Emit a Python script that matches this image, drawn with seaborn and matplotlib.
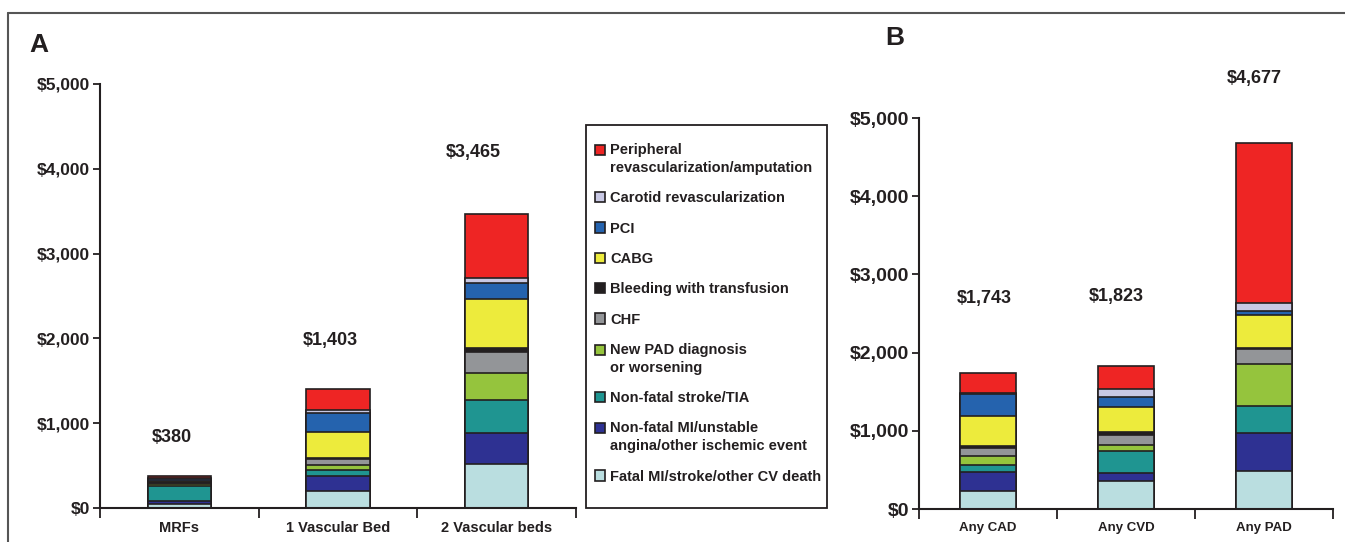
import matplotlib
matplotlib.use("Agg")
import matplotlib.pyplot as plt
from matplotlib.lines import Line2D
from matplotlib.patches import Patch, Rectangle
import pandas as pd
import seaborn as sns

# cost components, bottom of the stack first
components = [
    "Fatal MI/stroke/other CV death",
    "Non-fatal MI/unstable\nangina/other ischemic event",
    "Non-fatal stroke/TIA",
    "New PAD diagnosis\nor worsening",
    "CHF",
    "Bleeding with transfusion",
    "CABG",
    "PCI",
    "Carotid revascularization",
    "Peripheral\nrevascularization/amputation",
]
colors = ["#BADEE0", "#2E3192", "#1F9591", "#95C43D", "#939598",
          "#231F20", "#EDEB3C", "#2563AE", "#C8C8E4", "#EE2524"]

groups_a = ["MRFs", "1 Vascular Bed", "2 Vascular beds"]
mrfs = [50, 35, 175, 20, 20, 5, 15, 20, 10, 30]
one_bed = [203, 176, 75, 54, 70, 10, 310, 223, 31, 251]
two_beds = [518, 368, 392, 318, 242, 52, 576, 184, 67, 748]
totals_a = ["$380", "$1,403", "$3,465"]

groups_b = ["Any CAD", "Any CVD", "Any PAD"]
any_cad = [233, 242, 85, 118, 102, 20, 390, 280, 8, 265]
any_cvd = [352, 106, 284, 72, 131, 38, 323, 131, 93, 293]
any_pad = [487, 483, 352, 530, 191, 10, 429, 51, 98, 2046]
totals_b = ["$1,743", "$1,823", "$4,677"]

yticks = [0, 1000, 2000, 3000, 4000, 5000]
ytick_labels = ["$0", "$1,000", "$2,000", "$3,000", "$4,000", "$5,000"]

EDGE = "#231F20"

sns.set_style("white")
plt.rcParams["font.family"] = ["Liberation Sans", "DejaVu Sans"]
plt.rcParams["font.weight"] = "bold"


def stacked(ax, groups, layers, ytick_size, xtick_size):
    df = pd.DataFrame(layers, index=groups, columns=components)
    cum = df.cumsum(axis=1)
    # draw cumulative bars from the top layer down so each layer shows
    for comp, color in reversed(list(zip(components, colors))):
        sns.barplot(x=groups, y=cum[comp].values, color=color, saturation=1,
                    width=0.4, edgecolor=EDGE, linewidth=1.2, ax=ax)
    ax.set_xlim(-0.5, 2.5)
    ax.set_ylim(0, 5000)
    ax.set_yticks(yticks)
    ax.set_yticklabels(ytick_labels, fontsize=ytick_size, fontweight="bold", color="#231F20")
    ax.set_xticks([-0.5, 0.5, 1.5, 2.5], minor=True)
    ax.tick_params(axis="x", which="major", length=0, pad=9, labelsize=xtick_size)
    ax.tick_params(axis="x", which="minor", bottom=True, length=7, width=1.3, direction="out", color=EDGE)
    ax.tick_params(axis="y", left=True, length=5, width=1.3, direction="out", color=EDGE, pad=2)
    for lab in ax.get_xticklabels():
        lab.set_fontweight("bold")
        lab.set_color("#231F20")
    sns.despine(ax=ax)
    for side in ["left", "bottom"]:
        ax.spines[side].set_color(EDGE)
        ax.spines[side].set_linewidth(1.5)
    ax.set_xlabel("")
    ax.set_ylabel("")


fig = plt.figure(figsize=(13.45, 5.42), dpi=100)
ax_a = fig.add_axes([100 / 1345, 1 - 508 / 542, 476 / 1345, 424 / 542])
ax_b = fig.add_axes([919 / 1345, 1 - 509 / 542, 414 / 1345, 391 / 542])

stacked(ax_a, groups_a, [mrfs, one_bed, two_beds], 12.5, 10.5)
stacked(ax_b, groups_b, [any_cad, any_cvd, any_pad], 14, 9.5)

label_pos_a = [(-0.05, 835), (0.95, 1976), (1.85, 4188)]
label_pos_b = [(-0.03, 2697), (0.93, 2723), (1.93, 5509)]
for ax, totals, pos in [(ax_a, totals_a, label_pos_a), (ax_b, totals_b, label_pos_b)]:
    for t, (x, y) in zip(totals, pos):
        ax.text(x, y, t, ha="center", va="center", fontsize=13, fontweight="bold",
                color="#231F20", clip_on=False)

fig.text(39 / 1345, 1 - 45 / 542, "A", fontsize=19, fontweight="bold", ha="center", va="center", color="#231F20")
fig.text(895 / 1345, 1 - 38 / 542, "B", fontsize=19, fontweight="bold", ha="center", va="center", color="#231F20")

legend_labels = components[::-1]
handles = [Patch(facecolor=c, edgecolor=EDGE, linewidth=1.2) for c in colors][::-1]
leg = fig.legend(handles, legend_labels, loc="upper left",
                 bbox_to_anchor=(595 / 1345, 1 - 143 / 542), frameon=False,
                 fontsize=10.5, handlelength=0.7, handleheight=0.7,
                 handletextpad=0.35, labelspacing=1.12, borderpad=0, borderaxespad=0)
for t in leg.get_texts():
    t.set_color("#231F20")
    t.set_linespacing(1.35)
# put the swatch next to the first line of two-line entries
for patch, lab in zip(leg.get_patches(), legend_labels):
    if "\n" in lab:
        patch.set_y(patch.get_y() + 6.8)

# legend box
fig.add_artist(Rectangle((586 / 1345, 1 - 508 / 542), 241 / 1345, 383 / 542, transform=fig.transFigure,
                         facecolor="none", edgecolor=EDGE, linewidth=1.3))

# outer frame
fig.add_artist(Line2D([8 / 1345, 1], [1 - 13 / 542] * 2, transform=fig.transFigure, color="#555555", lw=1.5))
fig.add_artist(Line2D([8 / 1345] * 2, [0, 1 - 13 / 542], transform=fig.transFigure, color="#555555", lw=1.5))

fig.savefig("out.png", dpi=100)
